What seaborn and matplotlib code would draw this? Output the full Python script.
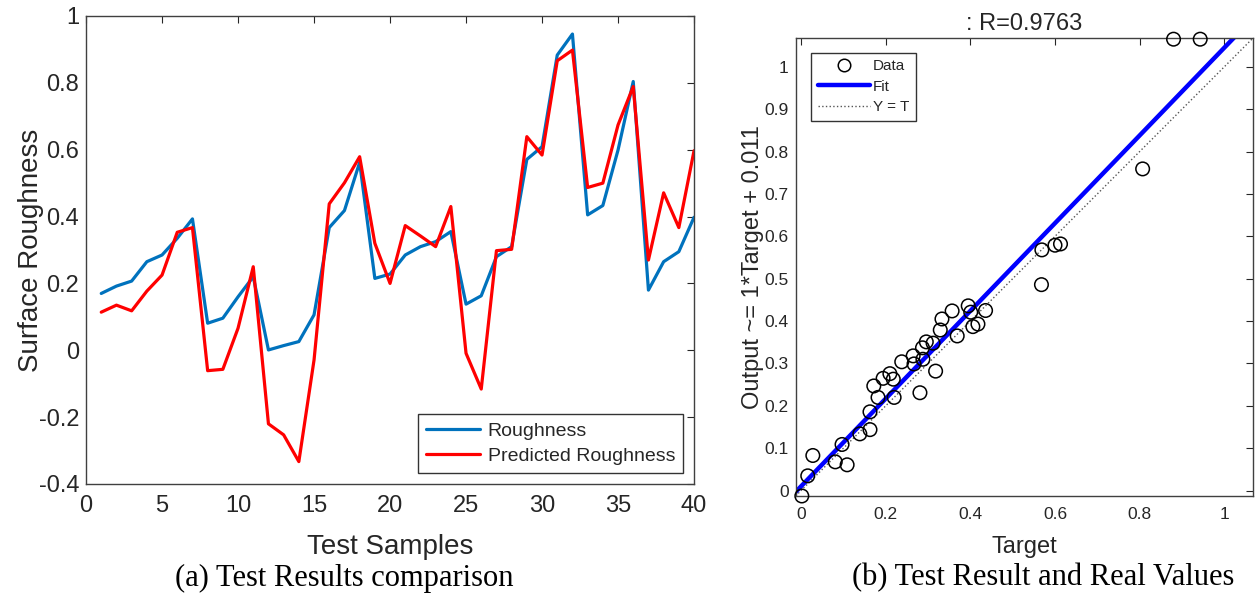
import matplotlib
matplotlib.use("Agg")
import numpy as np
import pandas as pd
import matplotlib.pyplot as plt
import seaborn as sns
from matplotlib.lines import Line2D

# ---------------- data ----------------
samples = list(range(1, 41))
roughness = [0.170, 0.192, 0.207, 0.265, 0.285, 0.335, 0.393, 0.081, 0.096, 0.160,
             0.220, 0.001, 0.014, 0.026, 0.106, 0.367, 0.418, 0.562, 0.215, 0.228,
             0.285, 0.310, 0.325, 0.355, 0.138, 0.163, 0.280, 0.310, 0.571, 0.609,
             0.883, 0.946, 0.405, 0.433, 0.599, 0.804, 0.180, 0.265, 0.295, 0.398]
predicted = [0.114, 0.135, 0.118, 0.177, 0.225, 0.353, 0.367, -0.061, -0.057, 0.066,
             0.250, -0.220, -0.253, -0.333, -0.029, 0.438, 0.501, 0.579, 0.320, 0.200,
             0.373, 0.342, 0.310, 0.430, -0.009, -0.116, 0.298, 0.302, 0.639, 0.584,
             0.866, 0.898, 0.487, 0.500, 0.674, 0.789, 0.270, 0.471, 0.367, 0.597]

target = [0.002, 0.016, 0.028, 0.081, 0.097, 0.109, 0.139, 0.163, 0.163, 0.172,
          0.182, 0.194, 0.210, 0.218, 0.220, 0.238, 0.265, 0.267, 0.281, 0.287,
          0.288, 0.296, 0.312, 0.318, 0.329, 0.333, 0.357, 0.369, 0.395, 0.401,
          0.406, 0.418, 0.436, 0.568, 0.569, 0.600, 0.613, 0.807, 0.880, 0.943]
output = [-0.0125, 0.035, 0.083, 0.068, 0.109, 0.061, 0.134, 0.144, 0.186, 0.247,
          0.220, 0.265, 0.276, 0.263, 0.220, 0.304, 0.318, 0.299, 0.231, 0.337,
          0.310, 0.351, 0.348, 0.282, 0.379, 0.405, 0.424, 0.365, 0.436, 0.421,
          0.387, 0.393, 0.425, 0.486, 0.568, 0.579, 0.582, 0.759, 1.065, 1.065]

fit_slope = 1.035
fit_intercept = 0.010
reg_limits = [-0.0125, 1.067]

left_xticks = [0, 5, 10, 15, 20, 25, 30, 35, 40]
left_yticks = [-0.4, -0.2, 0, 0.2, 0.4, 0.6, 0.8, 1]
left_ylabels = ["-0.4", "-0.2", "0", "0.2", "0.4", "0.6", "0.8", "1"]
right_xticks = [0, 0.2, 0.4, 0.6, 0.8, 1]
right_xlabels = ["0", "0.2", "0.4", "0.6", "0.8", "1"]
right_yticks = [0, 0.1, 0.2, 0.3, 0.4, 0.5, 0.6, 0.7, 0.8, 0.9, 1]
right_ylabels = ["0", "0.1", "0.2", "0.3", "0.4", "0.5", "0.6", "0.7", "0.8", "0.9", "1"]

# ---------------- style ----------------
sns.set_theme(style="white")
plt.rcParams["font.family"] = ["Liberation Sans", "DejaVu Sans"]
plt.rcParams["axes.unicode_minus"] = False
dark = "#262626"
spine_c = "#404040"

fig = plt.figure(figsize=(12.58, 5.99), dpi=100)
ax1 = fig.add_axes([0.0684, 0.192, 0.4833, 0.7813])
ax2 = fig.add_axes([0.6325, 0.172, 0.3633, 0.764])

# ---------------- left panel ----------------
df = pd.DataFrame({
    "x": samples * 2,
    "v": roughness + predicted,
    "series": ["Roughness"] * len(samples) + ["Predicted Roughness"] * len(samples),
})
sns.lineplot(data=df, x="x", y="v", hue="series",
             palette={"Roughness": "#0072BD", "Predicted Roughness": "#FF0000"},
             linewidth=2.3, sort=False, estimator=None, ax=ax1)
ax1.set_xlim(0, 40)
ax1.set_ylim(-0.4, 1)
ax1.set_xticks(left_xticks)
ax1.set_xticklabels([str(t) for t in left_xticks])
ax1.set_yticks(left_yticks)
ax1.set_yticklabels(left_ylabels)
ax1.set_xlabel("Test Samples", fontsize=20, color=dark, labelpad=12)
ax1.set_ylabel("Surface Roughness", fontsize=20, color=dark, labelpad=-4)
leg1 = ax1.legend(loc="lower right", bbox_to_anchor=(0.982, 0.0235), fontsize=14,
                  frameon=True, fancybox=False, edgecolor="black", handlelength=2.8,
                  borderaxespad=0, borderpad=0.4, labelspacing=0.4, handletextpad=0.4)
leg1.get_frame().set_linewidth(1.0)
for lh in leg1.get_lines():
    lh.set_linewidth(2.3)

# ---------------- right panel ----------------
sns.lineplot(x=reg_limits, y=reg_limits, color="#555555", linestyle=":",
             linewidth=1.0, ax=ax2)
fit_x = np.array(reg_limits)
sns.lineplot(x=fit_x, y=fit_slope * fit_x + fit_intercept, color="#0000FF",
             linewidth=3.2, ax=ax2)
sns.scatterplot(x=target, y=output, marker="o", s=95, color="black",
                facecolor="none", edgecolor="black", linewidth=1.1, ax=ax2,
                zorder=3, clip_on=False)
ax2.set_xlim(*reg_limits)
ax2.set_ylim(*reg_limits)
ax2.set_xticks(right_xticks)
ax2.set_xticklabels(right_xlabels)
ax2.set_yticks(right_yticks)
ax2.set_yticklabels(right_ylabels)
ax2.set_xlabel("Target", fontsize=17, color=dark, labelpad=10)
ax2.set_ylabel("Output ~= 1*Target + 0.011", fontsize=17, color=dark, labelpad=0)
ax2.set_title(": R=0.9763", fontsize=17, color=dark, pad=6)
handles = [
    Line2D([], [], linestyle="none", marker="o", markersize=9, markerfacecolor="none",
           markeredgecolor="black", markeredgewidth=1.1),
    Line2D([], [], color="#0000FF", linewidth=3.2),
    Line2D([], [], color="#555555", linestyle=":", linewidth=1.0),
]
leg2 = ax2.legend(handles, ["Data", "Fit", "Y = T"], loc="upper left",
                  bbox_to_anchor=(0.033, 0.969), fontsize=11, frameon=True,
                  fancybox=False, edgecolor="black", handlelength=3.4,
                  borderaxespad=0, borderpad=0.45, labelspacing=0.42, handletextpad=0.2)
leg2.get_frame().set_linewidth(1.0)

for ax, ls, pd_ in ((ax1, 17, 8), (ax2, 12.5, 8)):
    ax.tick_params(direction="in", top=True, right=True, length=5, width=0.8,
                   labelsize=ls, colors=dark, pad=pd_)
    ax.tick_params(axis="y", pad=5)
    for s in ax.spines.values():
        s.set_visible(True)
        s.set_color(spine_c)
        s.set_linewidth(1.0)

# ---------------- captions ----------------
fig.text(344 / 1258, 1 - 578 / 599, "(a) Test Results comparison", ha="center",
         va="center", fontsize=22, family=["Liberation Serif", "DejaVu Serif"], color="black")
fig.text(1043 / 1258, 1 - 578 / 599, "(b) Test Result and Real Values", ha="center",
         va="center", fontsize=22, family=["Liberation Serif", "DejaVu Serif"], color="black")

fig.savefig("out.png", dpi=100)
